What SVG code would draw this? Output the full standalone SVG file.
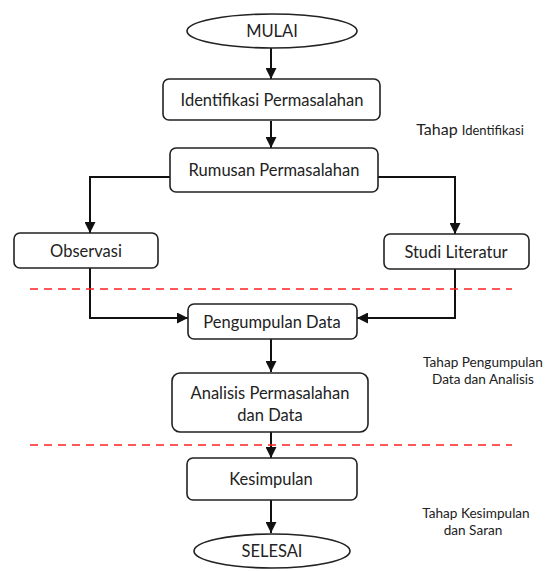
<svg xmlns="http://www.w3.org/2000/svg" width="545" height="571" viewBox="0 0 545 571">
<style>
.box{fill:#fff;stroke:#222;stroke-width:1.6}
.t{font-family:Lato,"Open Sans",sans-serif;font-size:16.5px;fill:#222;text-anchor:middle}
.s{font-family:Lato,"Open Sans",sans-serif;font-size:13.6px;fill:#222;text-anchor:middle}
.c{fill:none;stroke:#111;stroke-width:2}
.d{stroke:#f22;stroke-width:1.5;stroke-dasharray:8,6}
</style>
<defs>
<marker id="a" viewBox="0 0 10 10" refX="10" refY="5" markerWidth="5.5" markerHeight="5.5" orient="auto" markerUnits="strokeWidth">
<path d="M0,0 L10,5 L0,10 z" fill="#111"/>
</marker>
</defs>
<rect width="545" height="571" fill="#fff"/>
<g id="connectors">
<path class="c" d="M271,48 V79" marker-end="url(#a)"/>
<path class="c" d="M271,121 V148" marker-end="url(#a)"/>
<path class="c" d="M170,177 H90 V233" marker-end="url(#a)"/>
<path class="c" d="M378,177 H455 V234" marker-end="url(#a)"/>
<path class="c" d="M90,268 V318 H188" marker-end="url(#a)"/>
<path class="c" d="M455,269 V318 H357" marker-end="url(#a)"/>
<path class="c" d="M271,339 V372" marker-end="url(#a)"/>
<path class="c" d="M271,432 V458" marker-end="url(#a)"/>
<path class="c" d="M271,500 V533" marker-end="url(#a)"/>
</g>
<g id="dividers">
<line class="d" x1="30" y1="289" x2="512" y2="289"/>
<line class="d" x1="30" y1="445" x2="512" y2="445"/>
</g>
<g id="mulai"><ellipse class="box" cx="272" cy="31" rx="85" ry="17"/><text class="t" x="272" y="37">MULAI</text></g>
<g id="identifikasi"><rect class="box" x="163" y="79" width="217" height="41" rx="6"/><text class="t" x="272" y="106">Identifikasi Permasalahan</text></g>
<g id="rumusan"><rect class="box" x="170" y="148" width="208" height="44" rx="6"/><text class="t" x="274" y="176">Rumusan Permasalahan</text></g>
<g id="observasi"><rect class="box" x="14" y="233" width="144" height="35" rx="6"/><text class="t" x="86" y="257">Observasi</text></g>
<g id="studi"><rect class="box" x="384" y="234" width="145" height="35" rx="6"/><text class="t" x="456" y="258">Studi Literatur</text></g>
<g id="pengumpulan"><rect class="box" x="188" y="304" width="169" height="35" rx="6"/><text class="t" x="272" y="328">Pengumpulan Data</text></g>
<g id="analisis"><rect class="box" x="172" y="373" width="196" height="59" rx="8"/><text class="t" x="270" y="399">Analisis Permasalahan</text><text class="t" x="270" y="421">dan Data</text></g>
<g id="kesimpulan"><rect class="box" x="187" y="458" width="170" height="42" rx="6"/><text class="t" x="271" y="485">Kesimpulan</text></g>
<g id="selesai"><ellipse class="box" cx="272" cy="551" rx="78" ry="17"/><text class="t" x="272" y="557">SELESAI</text></g>
<g id="labels">
<text class="s" x="470" y="135"><tspan font-size="16">Tahap </tspan><tspan font-size="13">Identifikasi</tspan></text>
<text class="s" x="483" y="367">Tahap Pengumpulan</text>
<text class="s" x="483" y="384">Data dan Analisis</text>
<text class="s" x="476" y="518">Tahap Kesimpulan</text>
<text class="s" x="473" y="535">dan Saran</text>
</g>
</svg>
